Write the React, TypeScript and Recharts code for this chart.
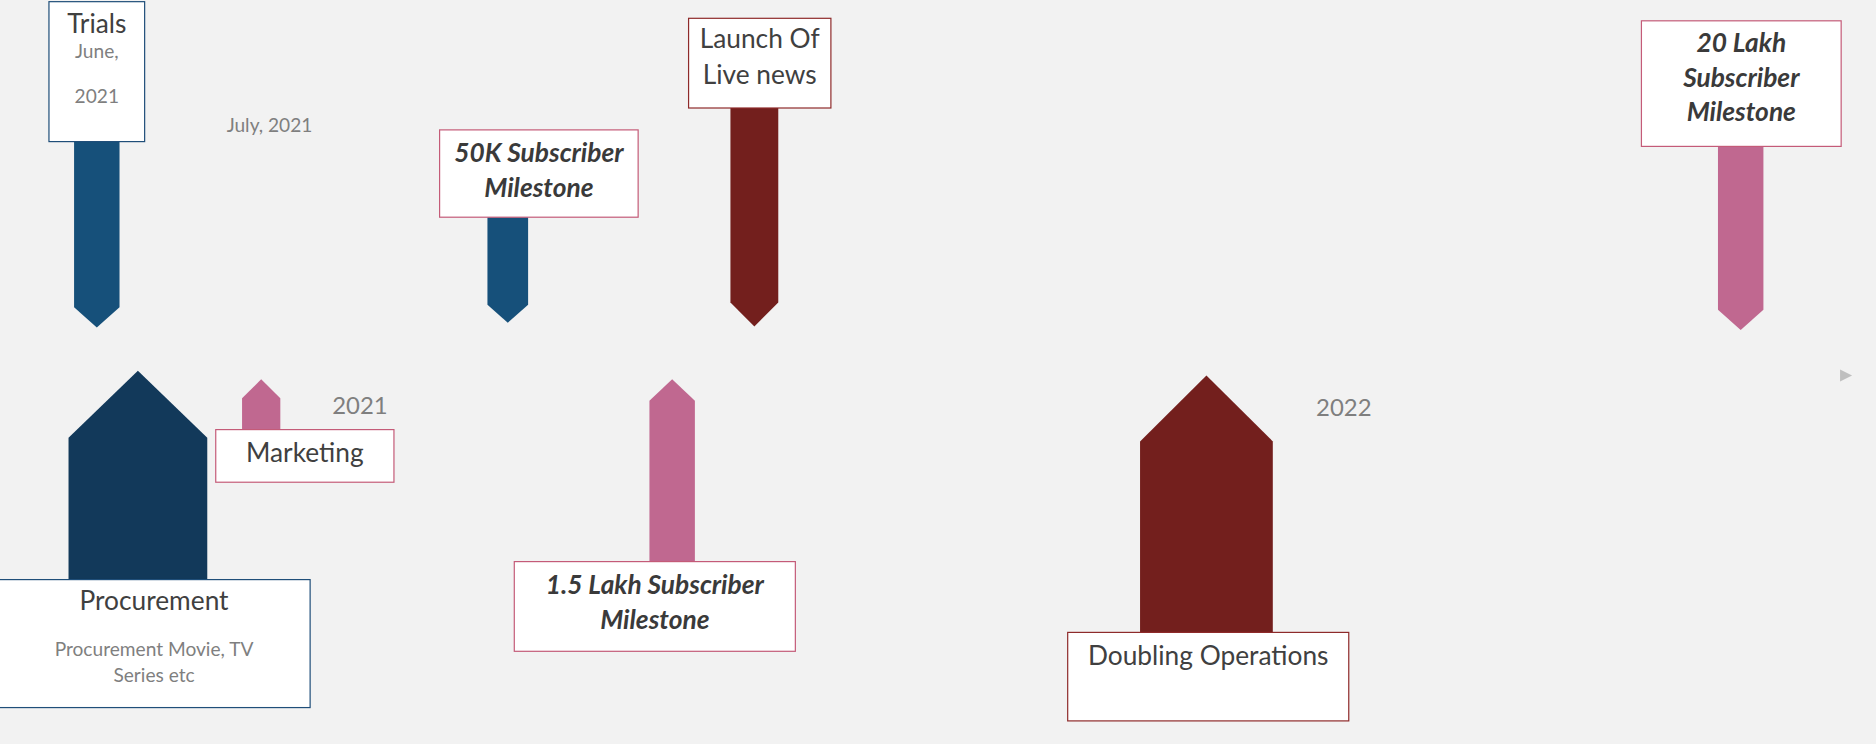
import React from 'react'
import { ComposedChart, Bar, Scatter, XAxis, YAxis, ReferenceLine } from 'recharts'

const S = 1.196

const months = ['JUN', 'JUL', 'AUG', 'SEP', 'OCT', 'NOV', 'DEC', 'JAN', 'FEB', 'MAR', 'APR', 'MAY', 'JUN', 'JUL', 'AUG', 'SEP', 'OCT', 'NOV', 'DEC', 'JAN', 'FEB', 'MAR']

const eventNames = ['Trials', '50K Subscriber Milestone', 'Launch Of Live news', '20 Lakh Subscriber Milestone', 'Procurement', 'Marketing', '1.5 Lakh Subscriber Milestone', 'Doubling Operations']
const eventMonth = [0, 5, 8, 20, 0.5, 2, 7, 13.5]
const eventTip = [40, 44, 41, 38, 4, -3, -3, 0]
const eventEnd = [195, 132, 223, 191, -170, -45, -155, -214]

const notes = ['July, 2021', '2021', '2022']
const noteMonth = [2.1, 3.2, 15.17]
const noteLevel = [209, -24, -26]

const BLUE = '#16507A'
const NAVY = '#12395A'
const RED = '#731F1D'
const PINK = '#C06890'
const B_BLUE = '#1F4E79'
const B_RED = '#8E2A2A'
const B_PINK = '#C45B78'
const GRAY = '#7F7F7F'
const DARK = '#404040'

type Line = { t: string; y: number; size: number; color: string; bold?: boolean }
type Style = { w: number; head: number; fill: string; bx0: number; bx1: number; bh: number; border: string; lines: Line[] }

const bi = (t: string, y: number): Line => ({ t, y, size: 22, color: '#3A3A3A', bold: true })
const reg = (t: string, y: number): Line => ({ t, y, size: 22, color: DARK })
const sm = (t: string, y: number): Line => ({ t, y, size: 16, color: GRAY })

const styles: Style[] = [
  { w: 38, head: 17, fill: BLUE, bx0: -40, bx1: 40, bh: 117, border: B_BLUE, lines: [reg('Trials', 26), sm('June,', 47), sm('2021', 85)] },
  { w: 34, head: 15, fill: BLUE, bx0: -57, bx1: 109, bh: 73, border: B_PINK, lines: [bi('50K Subscriber', 27), bi('Milestone', 56)] },
  { w: 40, head: 20, fill: RED, bx0: -55, bx1: 64, bh: 75, border: B_RED, lines: [reg('Launch Of', 25), reg('Live news', 55)] },
  { w: 38, head: 17, fill: PINK, bx0: -83, bx1: 84, bh: 105, border: B_PINK, lines: [bi('20 Lakh', 26), bi('Subscriber', 55), bi('Milestone', 84)] },
  { w: 116, head: 56, fill: NAVY, bx0: -117, bx1: 144, bh: 107, border: B_BLUE, lines: [reg('Procurement', 25), sm('Procurement Movie, TV', 64), sm('Series etc', 86)] },
  { w: 32, head: 16, fill: PINK, bx0: -38, bx1: 111, bh: 44, border: B_PINK, lines: [reg('Marketing', 27)] },
  { w: 38, head: 18, fill: PINK, bx0: -132, bx1: 103, bh: 75, border: B_PINK, lines: [bi('1.5 Lakh Subscriber', 27), bi('Milestone', 56)] },
  { w: 111, head: 55, fill: RED, bx0: -116, bx1: 119, bh: 74, border: B_RED, lines: [reg('Doubling Operations', 27)] },
]

const events = eventNames.map((name, i) => ({
  name,
  m: eventMonth[i],
  tip: eventTip[i],
  end: eventEnd[i],
  idx: i,
}))
const noteData = notes.map((t, i) => ({ t, m: noteMonth[i], v: noteLevel[i], idx: i }))
const monthTicks = months.map((_, i) => i)
const FONT = 'Lato, "Open Sans", sans-serif'

const EventShape = (props: any) => {
  const { x, y, width, height, payload } = props
  const st = styles[payload.idx]
  const cx = x + width / 2
  const top = Math.min(y, y + height)
  const bot = Math.max(y, y + height)
  const hw = (st.w * S) / 2
  const hd = st.head * S
  const down = payload.tip < payload.end
  const pts = down
    ? `${cx - hw},${top} ${cx + hw},${top} ${cx + hw},${bot - hd} ${cx},${bot} ${cx - hw},${bot - hd}`
    : `${cx},${top} ${cx + hw},${top + hd} ${cx + hw},${bot} ${cx - hw},${bot} ${cx - hw},${top + hd}`
  const bh = st.bh * S
  const by = down ? top - bh : bot
  const bx = cx + st.bx0 * S
  const bw = (st.bx1 - st.bx0) * S
  return (
    <g>
      <polygon points={pts} fill={st.fill} />
      <rect x={bx} y={by} width={bw} height={bh} fill="#fff" stroke={st.border} strokeWidth={1.2} />
      {st.lines.map((l, k) => (
        <text key={k} x={bx + bw / 2} y={by + l.y * S} textAnchor="middle" fontFamily={FONT}
          fontSize={l.size * S} fill={l.color} fontWeight={l.bold ? 700 : 400} fontStyle={l.bold ? 'italic' : 'normal'}>
          {l.t}
        </text>
      ))}
    </g>
  )
}

const NoteShape = (props: any) => {
  const { cx, cy, payload } = props
  return (
    <text x={cx} y={cy} textAnchor="middle" dominantBaseline="central" fontFamily={FONT}
      fontSize={(payload.idx === 0 ? 16 : 20) * S} fill={GRAY}>
      {payload.t}
    </text>
  )
}

const ArrowHead = (props: any) => {
  const { cx, cy } = props
  return <polygon points={`${cx - 12},${cy - 6} ${cx},${cy} ${cx - 12},${cy + 6}`} fill="#BFBFBF" />
}

const MonthTick = (props: any) => {
  const { x, payload } = props
  return (
    <text x={x} y={288 * S} textAnchor="middle" dominantBaseline="central" fontFamily={FONT}
      fontSize={17 * S} fill={GRAY}>
      {months[payload.value]}
    </text>
  )
}

export default function App() {
  return (
    <div style={{ position: 'fixed', left: 0, top: 0, width: 1876, height: 744, background: '#F2F2F2' }}>
      <ComposedChart width={1876} height={744} data={events} margin={{ top: 0, right: 0, bottom: 0, left: 0 }}>
        <XAxis type="number" dataKey="m" domain={[-81 / 68.7, 1487 / 68.7]} ticks={monthTicks} interval={0}
          height={0} axisLine={false} tickLine={false} tick={<MonthTick />} allowDataOverflow />
        <YAxis type="number" hide domain={[-307, 313]} allowDataOverflow width={0} />
        <ReferenceLine segment={[{ x: -23 / 68.7, y: 0 }, { x: 1540 / 68.7, y: 0 }]} stroke="#BFBFBF" strokeWidth={1.5} />
        <Scatter data={[{ m: 1548 / 68.7 - 81 / 68.7, v: 0 }]} dataKey="v" shape={<ArrowHead />} isAnimationActive={false} />
        <Bar dataKey={(d: any) => [Math.min(d.tip, d.end), Math.max(d.tip, d.end)]} barSize={2}
          shape={<EventShape />} isAnimationActive={false} />
        <Scatter data={noteData} dataKey="v" shape={<NoteShape />} isAnimationActive={false} />
      </ComposedChart>
    </div>
  )
}
